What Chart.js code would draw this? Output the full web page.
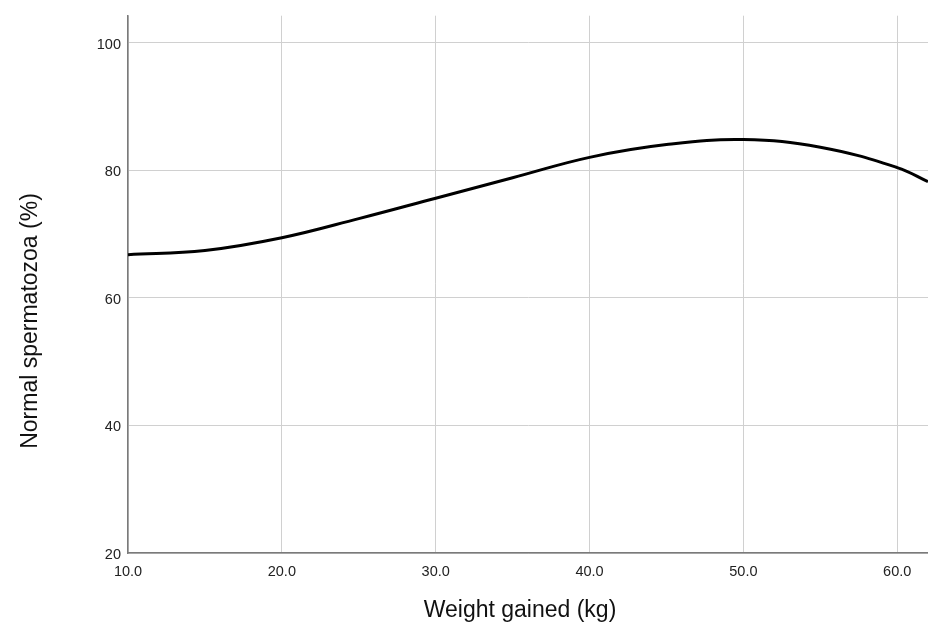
<!DOCTYPE html>
<html>
<head>
<meta charset="utf-8">
<title>Normal spermatozoa vs weight gained</title>
<script src="https://cdn.jsdelivr.net/npm/chart.js@4.4.1/dist/chart.umd.min.js"></script>
<style>
  html, body { margin: 0; padding: 0; background: #ffffff; }
  canvas { display: block; }
</style>
</head>
<body>
<canvas id="myChart" width="928" height="624"></canvas>
<script>
     // fitted curve
     var weightGained = [10, 15, 20, 25, 30, 35, 40, 45, 50, 55, 60, 62];
     var normalSperm = [66.75, 67.4, 69.4, 72.4, 75.6, 78.8, 82.0, 84.0, 84.8, 83.6, 80.4, 78.2];

     var xTicks = [10, 20, 30, 40, 50, 60];
     var yTicks = [20, 40, 60, 80, 100];

     var xTitle = "Weight gained (kg)";
     var yTitle = "Normal spermatozoa (%)";

     var fontFamily = "'Liberation Sans', Arial, sans-serif";

     var points = [];
     weightGained.forEach((w, i) => {
          points.push({ x: w, y: normalSperm[i] });
     });

     // axis titles drawn by hand, SPSS doesn't center them on the plot area
     var axisTitles = {
          id: 'axisTitles',
          afterDraw: (chart) => {
               var ctx = chart.ctx;
               ctx.save();
               ctx.fillStyle = '#111111';
               ctx.font = '23px ' + fontFamily;
               ctx.textAlign = 'center';
               ctx.textBaseline = 'alphabetic';
               ctx.fillText(xTitle, 520, 617);
               ctx.translate(37, 321);
               ctx.rotate(-Math.PI / 2);
               ctx.fillText(yTitle, 0, 0);
               ctx.restore();
          }
     };

     var myChart = document.getElementById('myChart');

     var linechart = new Chart(myChart, {
          type: 'line',
          data: {
               datasets: [
                    {
                         label: "Normal spermatozoa",
                         data: points,
                         borderColor: "#000000",
                         backgroundColor: "#000000",
                         borderWidth: 3,
                         fill: false,
                         pointRadius: 0,
                         tension: 0.4
                    }
               ]
          },
          options: {
               responsive: false,
               animation: false,
               layout: { padding: { top: 13, right: 0, left: 0, bottom: 0 } },
               plugins: {
                    legend: { display: false },
                    tooltip: { enabled: false }
               },
               scales: {
                    x: {
                         type: 'linear',
                         min: 10,
                         max: 62,
                         afterBuildTicks: (axis) => {
                              axis.ticks = xTicks.map(v => ({ value: v }));
                         },
                         afterFit: (axis) => { axis.height = 71; },
                         grid: { color: '#d0d0d0', lineWidth: 1, drawTicks: false },
                         border: { color: '#7a7a7a', width: 1.5 },
                         ticks: {
                              padding: 10,
                              color: '#222222',
                              font: { family: fontFamily, size: 14.5 },
                              maxRotation: 0,
                              callback: (v) => Number(v).toFixed(1)
                         }
                    },
                    y: {
                         type: 'linear',
                         min: 20,
                         max: 104.2,
                         afterBuildTicks: (axis) => {
                              axis.ticks = yTicks.map(v => ({ value: v }));
                         },
                         afterFit: (axis) => { axis.width = 128; },
                         grid: { color: '#d0d0d0', lineWidth: 1, drawTicks: false },
                         border: { color: '#7a7a7a', width: 1.5 },
                         ticks: {
                              padding: 7,
                              labelOffset: 2,
                              color: '#222222',
                              font: { family: fontFamily, size: 14.5 },
                              callback: (v) => String(v)
                         }
                    }
               }
          },
          plugins: [axisTitles]
     });
</script>
</body>
</html>
